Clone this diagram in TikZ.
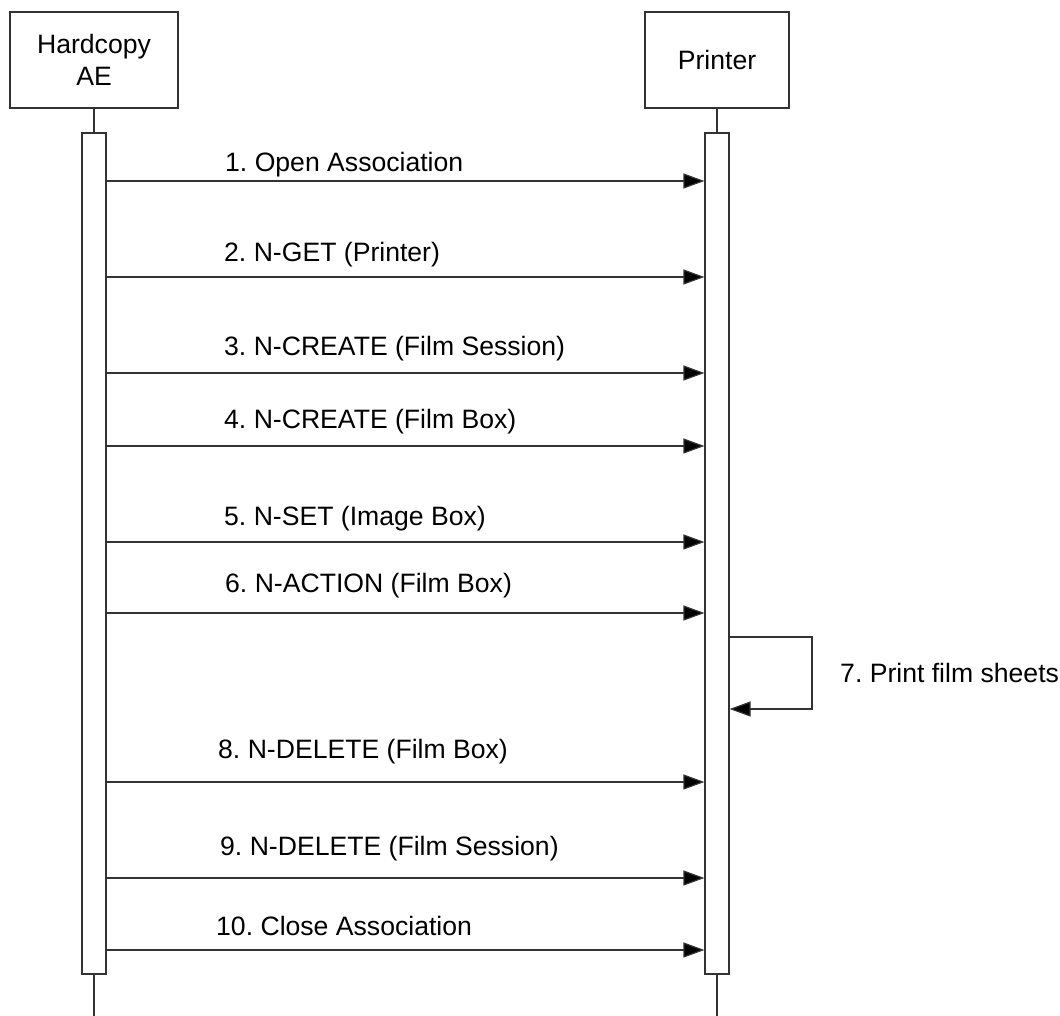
\documentclass[tikz,border=0pt]{standalone}
\usepackage{fontspec}
\setmainfont{Liberation Sans}
\usetikzlibrary{arrows.meta}
\frenchspacing

\tikzset{
    lifebox/.style={draw=black!80, line width=1.2pt, fill=white, minimum height=96pt, align=center},
    actbar/.style={draw=black!80, line width=1.2pt, fill=white, minimum width=24pt, minimum height=841pt, inner sep=0pt},
    lifeline/.style={draw=black!80, line width=1.2pt},
    msg/.style={draw=black!80, line width=1.2pt, -{Triangle[length=21pt,width=15pt,fill=black]}},
    msglabel/.style={anchor=base west, inner sep=0pt},
}

\begin{document}
\begin{tikzpicture}[x=1pt, y=-1pt, font=\fontsize{26.6}{32}\selectfont]
    \useasboundingbox (0,0) rectangle (1060,1016);

    % participants
    \node[lifebox, minimum width=168pt] (hc) at (94,60) {Hardcopy\\AE};
    \node[lifebox, minimum width=144pt] (pr) at (717,60) {Printer};

    % activation bars
    \node[actbar] (hbar) at (94,553.5) {};
    \node[actbar] (pbar) at (717,553.5) {};
    \coordinate (bottom) at (0,1016);

    \draw[lifeline] (hc.south) -- (hbar.north);
    \draw[lifeline] (hbar.south) -- (hbar.south |- bottom);
    \draw[lifeline] (pr.south) -- (pbar.north);
    \draw[lifeline] (pbar.south) -- (pbar.south |- bottom);

    % message heights
    \coordinate (m1) at (0,181);
    \coordinate (m2) at (0,277);
    \coordinate (m3) at (0,373);
    \coordinate (m4) at (0,446);
    \coordinate (m5) at (0,542);
    \coordinate (m6) at (0,613);
    \coordinate (m8) at (0,782);
    \coordinate (m9) at (0,878);
    \coordinate (m10) at (0,950);

    \draw[msg] (hbar.east |- m1) -- (pbar.west |- m1);
    \draw[msg] (hbar.east |- m2) -- (pbar.west |- m2);
    \draw[msg] (hbar.east |- m3) -- (pbar.west |- m3);
    \draw[msg] (hbar.east |- m4) -- (pbar.west |- m4);
    \draw[msg] (hbar.east |- m5) -- (pbar.west |- m5);
    \draw[msg] (hbar.east |- m6) -- (pbar.west |- m6);
    \draw[msg] (hbar.east |- m8) -- (pbar.west |- m8);
    \draw[msg] (hbar.east |- m9) -- (pbar.west |- m9);
    \draw[msg] (hbar.east |- m10) -- (pbar.west |- m10);

    \node[msglabel] (l1) at (225,172) {1. Open Association};
    \node[msglabel] (l2) at (224,262) {2. N-GET (Printer)};
    \node[msglabel] (l3) at (224,355) {3. N-CREATE (Film Session)};
    \node[msglabel] (l4) at (224,428) {4. N-CREATE (Film Box)};
    \node[msglabel] (l5) at (224,525) {5. N-SET (Image Box)};
    \node[msglabel] (l6) at (225,592) {6. N-ACTION (Film Box)};
    \node[msglabel] (l8) at (218,758) {8. N-DELETE (Film Box)};
    \node[msglabel] (l9) at (220,855) {9. N-DELETE (Film Session)};
    \node[msglabel] (l10) at (216,935) {10. Close Association};

    % self message
    \coordinate (s1) at (0,637);
    \coordinate (s2) at (0,709);
    \coordinate (sx) at (812,0);
    \draw[msg] (pbar.east |- s1) -- (sx |- s1) -- (sx |- s2) -- (pbar.east |- s2);
    \node[msglabel] (l7) at (840,682) {7. Print film sheets};
\end{tikzpicture}
\end{document}
